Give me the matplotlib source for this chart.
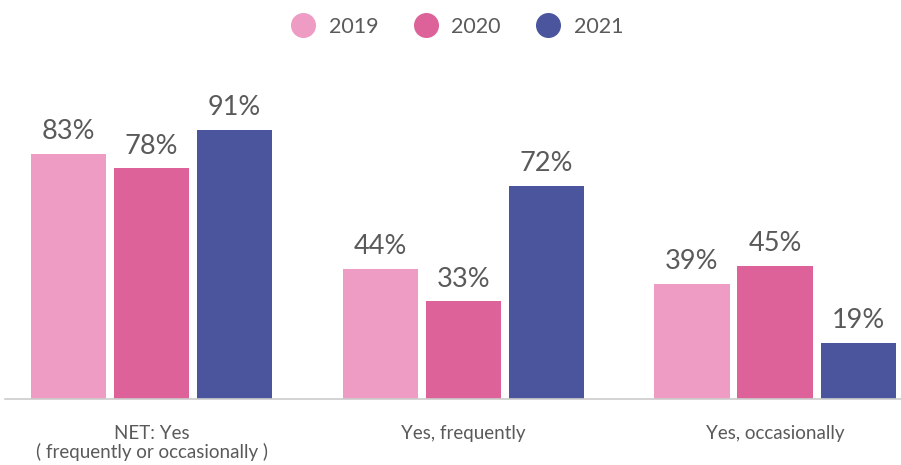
import matplotlib.pyplot as plt
import numpy as np

categories = ["NET: Yes\n( frequently or occasionally )", "Yes, frequently", "Yes, occasionally"]
years = ["2019", "2020", "2021"]
values_2019 = [83, 44, 39]
values_2020 = [78, 33, 45]
values_2021 = [91, 72, 19]

colors = ["#EE9CC4", "#DD6299", "#4B559E"]
text_color = "#5a5a5a"

plt.rcParams['font.family'] = ['Lato', 'DejaVu Sans']

fig = plt.figure(figsize=(9.01, 4.65), dpi=100)
# axes spans pixel x 5..901, y 60..399
ax = fig.add_axes([5 / 901, 66 / 465, 896 / 901, 339 / 465])

x = np.arange(len(categories))
width = 0.241
step = 0.2665
series = [values_2019, values_2020, values_2021]

for i, (vals, col, yr) in enumerate(zip(series, colors, years)):
    pos = x + (i - 1) * step
    bars = ax.bar(pos, vals, width=width, color=col, label=yr, zorder=2)
    for b, v in zip(bars, vals):
        ax.annotate(f"{v}%", (b.get_x() + b.get_width() / 2, v),
                    xytext=(0, 7), textcoords="offset points",
                    ha="center", va="bottom", fontsize=19.5, color=text_color)

ax.set_xlim(-0.470, 2.404)
ax.set_ylim(0, 114.7)
ax.set_yticks([])
ax.set_xticks(x)
ax.set_xticklabels(categories, fontsize=13.5, color=text_color, linespacing=1.05)
ax.tick_params(axis="x", length=0, pad=19)
for s in ["top", "right", "left"]:
    ax.spines[s].set_visible(False)
ax.spines["bottom"].set_color("#cccccc")
ax.spines["bottom"].set_linewidth(1.2)

# legend with circle markers
handles = [plt.Line2D([], [], marker="o", linestyle="", markersize=17,
                      markerfacecolor=c, markeredgecolor=c) for c in colors]
fig.legend(handles, years, loc="center", bbox_to_anchor=(0.507, 1 - 27 / 465),
           ncol=3, frameon=False, fontsize=15.5, labelcolor=text_color,
           handletextpad=0.6, columnspacing=1.6, handlelength=1.2)

fig.savefig("out.png", dpi=100)
